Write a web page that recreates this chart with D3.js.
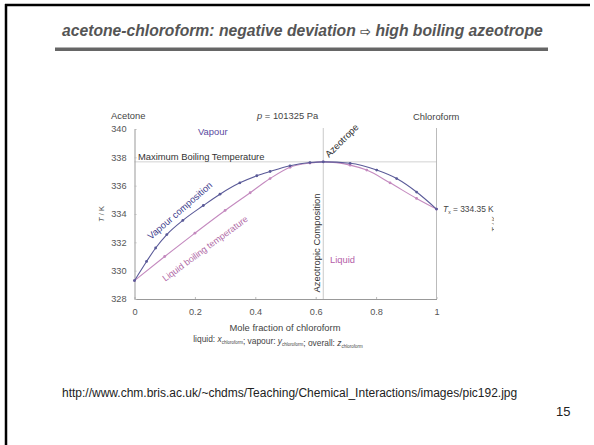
<!DOCTYPE html>
<html>
<head>
<meta charset="utf-8">
<script src="https://cdn.jsdelivr.net/npm/d3@7"></script>
<style>
  body { margin: 0; background: #fff; }
  svg { display: block; font-family: "Liberation Sans", Arial, sans-serif; }
</style>
</head>
<body>
<svg width="594" height="445"></svg>
<script>
// liquid (bubble) curve: T vs x_chloroform
const liquidX = [0, 0.1, 0.2, 0.3, 0.383, 0.449, 0.515, 0.581, 0.625, 0.714, 0.769, 0.846, 0.934, 1];
const liquidT = [329.3, 331.0, 332.65, 334.25, 335.5, 336.5, 337.3, 337.6, 337.68, 337.45, 337.1, 336.2, 335.1, 334.35];

// vapour (dew) curve: T vs y_chloroform
const vapourX = [0, 0.04, 0.07, 0.107, 0.16, 0.228, 0.283, 0.349, 0.405, 0.449, 0.515, 0.581, 0.625, 0.714, 0.802, 0.868, 0.934, 1];
const vapourT = [329.3, 330.65, 331.6, 332.55, 333.55, 334.6, 335.4, 336.2, 336.7, 337.0, 337.4, 337.63, 337.68, 337.58, 337.1, 336.5, 335.55, 334.35];

const xTicks = [0, 0.2, 0.4, 0.6, 0.8, 1];
const yTicks = [328, 330, 332, 334, 336, 338, 340];
const azeoX = 0.625;
const azeoT = 337.68;

const svg = d3.select('svg');
const FS = '9.4px';

// slide frame and header
svg.append('line').attr('x1', 5).attr('y1', 5).attr('x2', 590).attr('y2', 5)
    .attr('stroke', '#000').attr('stroke-width', 2.5);
svg.append('line').attr('x1', 6).attr('y1', 4).attr('x2', 6).attr('y2', 445)
    .attr('stroke', '#000').attr('stroke-width', 2.5);

const title = svg.append('text')
    .attr('x', 62).attr('y', 36)
    .attr('font-size', '15.7px')
    .attr('font-weight', 'bold')
    .attr('font-style', 'italic')
    .attr('fill', '#555');
title.append('tspan').text('acetone-chloroform: negative deviation ');
title.append('tspan').attr('font-family', 'DejaVu Sans').attr('font-style', 'normal').attr('font-size', '13px').text('\u21E8');
title.append('tspan').text(' high boiling azeotrope');

svg.append('rect').attr('x', 55).attr('y', 47.5).attr('width', 493).attr('height', 3.5).attr('fill', '#666');

svg.append('text').attr('x', 62).attr('y', 397).attr('font-size', '12px').attr('fill', '#222')
    .text('http://www.chm.bris.ac.uk/~chdms/Teaching/Chemical_Interactions/images/pic192.jpg');
svg.append('text').attr('x', 556).attr('y', 416).attr('font-size', '13px').attr('fill', '#222').text('15');

// chart
const xScale = d3.scaleLinear().domain([0, 1]).range([134.5, 436.5]);
const yScale = d3.scaleLinear().domain([328, 340]).range([299, 129]);

svg.append('defs').append('clipPath').attr('id', 'img-clip')
    .append('rect').attr('x', 95).attr('y', 95).attr('width', 399).attr('height', 260);

const g = svg.append('g').attr('clip-path', 'url(#img-clip)');

// reference lines
g.append('line')
    .attr('x1', xScale(0)).attr('x2', xScale(1))
    .attr('y1', yScale(azeoT)).attr('y2', yScale(azeoT))
    .attr('stroke', '#c8c8c8').attr('stroke-width', 0.8);
g.append('line')
    .attr('x1', xScale(azeoX)).attr('x2', xScale(azeoX))
    .attr('y1', yScale(340) - 1).attr('y2', yScale(328))
    .attr('stroke', '#bbb').attr('stroke-width', 0.8);
g.append('line')
    .attr('x1', xScale(1)).attr('x2', xScale(1))
    .attr('y1', yScale(340) - 1).attr('y2', yScale(328))
    .attr('stroke', '#aaa').attr('stroke-width', 0.8);

// axes
const xAxis = g.append('g')
    .attr('transform', `translate(0, ${yScale(328)})`)
    .call(d3.axisBottom(xScale).tickValues(xTicks).tickFormat(d3.format('')).tickSizeInner(-2).tickSizeOuter(0).tickPadding(9));
const yAxis = g.append('g')
    .attr('transform', `translate(${xScale(0)}, 0)`)
    .call(d3.axisLeft(yScale).tickValues(yTicks).tickSizeInner(-2).tickSizeOuter(0).tickPadding(8));
[xAxis, yAxis].forEach(a => {
    a.select('.domain').attr('stroke', '#999').attr('stroke-width', 1);
    a.selectAll('.tick line').attr('stroke', '#bbb');
    a.selectAll('.tick text').attr('fill', '#555').attr('font-size', '9.2px')
        .attr('font-family', '"Liberation Sans", Arial, sans-serif');
});

// curves
const liquidPts = liquidX.map((x, i) => [x, liquidT[i]]);
const vapourPts = vapourX.map((x, i) => [x, vapourT[i]]);
const line = d3.line().x(d => xScale(d[0])).y(d => yScale(d[1])).curve(d3.curveMonotoneX);

const series = [
    { pts: liquidPts, color: '#c48abf' },
    { pts: vapourPts, color: '#5a5a98' }
];
series.forEach(s => {
    g.append('path').datum(s.pts).attr('d', line)
        .attr('fill', 'none').attr('stroke', s.color).attr('stroke-width', 1.1);
    g.selectAll(null).data(s.pts).enter().append('circle')
        .attr('cx', d => xScale(d[0])).attr('cy', d => yScale(d[1]))
        .attr('r', 1.4).attr('fill', s.color);
});

// labels
function label(txt, x, y, opts = {}) {
    const t = g.append('text')
        .attr('x', x).attr('y', y)
        .attr('font-size', opts.size || FS)
        .attr('fill', opts.color || '#444')
        .attr('text-anchor', opts.anchor || 'start');
    if (opts.rotate) t.attr('transform', `rotate(${opts.rotate}, ${x}, ${y})`);
    if (opts.italic) t.attr('font-style', 'italic');
    t.text(txt);
    return t;
}

label('Acetone', 111, 119);
const pLabel = g.append('text').attr('x', 257).attr('y', 119).attr('font-size', FS).attr('fill', '#444');
pLabel.append('tspan').attr('font-style', 'italic').text('p');
pLabel.append('tspan').text(' = 101325 Pa');
label('Chloroform', 413, 120);
label('Vapour', 198, 135, { color: '#5a4aa0' });
label('Maximum Boiling Temperature', 138, 160, { color: '#333' });
label('Liquid', 330, 263, { color: '#b45ea8' });
label('Azeotrope', 329, 158, { rotate: -45, color: '#333' });
label('Azeotropic Composition', 320, 243, { rotate: -90, anchor: 'middle', color: '#333' });
label('Vapour composition', 182, 213, { rotate: -41, anchor: 'middle', color: '#3c3c8c' });
label('Liquid boiling temperature', 207, 251, { rotate: -36.5, anchor: 'middle', size: '9px', color: '#b06aa6' });

const tx = g.append('text').attr('x', 443).attr('y', 212).attr('font-size', '8.4px').attr('fill', '#444');
tx.append('tspan').attr('font-style', 'italic').text('T');
tx.append('tspan').attr('font-size', '5px').attr('dy', 2).text('x');
tx.append('tspan').attr('dy', -2).text(' = 334.35 K');

const ty = g.append('text').attr('x', 104).attr('y', 214).attr('font-size', '7.5px').attr('fill', '#555')
    .attr('text-anchor', 'middle').attr('transform', 'rotate(-90, 104, 214)');
ty.append('tspan').attr('font-style', 'italic').text('T');
ty.append('tspan').text(' / K');

const ty2 = g.append('text').attr('x', 497).attr('y', 224).attr('font-size', '7.5px').attr('fill', '#555')
    .attr('text-anchor', 'middle').attr('transform', 'rotate(-90, 497, 224)');
ty2.append('tspan').attr('font-style', 'italic').text('T');
ty2.append('tspan').text(' / K');

label('Mole fraction of chloroform', 285, 331, { anchor: 'middle', color: '#444' });
const sub = g.append('text').attr('x', 278).attr('y', 342).attr('font-size', '8.4px')
    .attr('fill', '#444').attr('text-anchor', 'middle');
[['liquid: ', 'x'], ['; vapour: ', 'y'], ['; overall: ', 'z']].forEach(([a, v]) => {
    sub.append('tspan').text(a);
    sub.append('tspan').attr('font-style', 'italic').text(v);
    sub.append('tspan').attr('font-size', '4.5px').attr('dy', 2).text('chloroform');
    sub.append('tspan').attr('dy', -2).text('');
});
</script>
</body>
</html>
